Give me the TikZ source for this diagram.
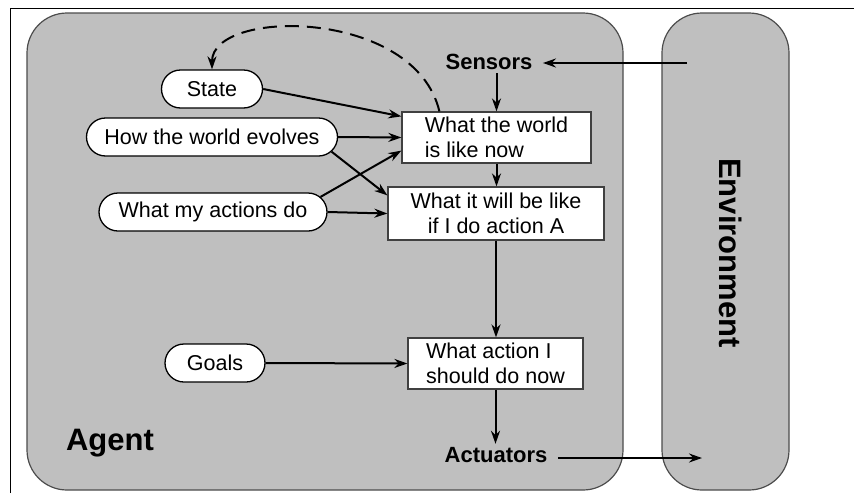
\documentclass[tikz,border=0pt]{standalone}
\usepackage{fontspec}
\setmainfont{Liberation Sans}
\usetikzlibrary{shapes.misc,arrows.meta,calc}
\begin{document}
\begin{tikzpicture}[x=1pt,y=-1pt,
  font=\fontsize{21.5}{24.5}\selectfont,
  panel/.style={draw=black!70, fill=black!25, line width=1.2pt, rounded corners=40pt, inner sep=0pt},
  oval/.style={rounded rectangle, draw, fill=white, line width=1.3pt, minimum height=38pt, inner sep=0pt},
  box/.style={draw=black!75, fill=white, line width=1.2pt, minimum height=51pt, inner ysep=2pt, inner xsep=0pt},
  arr/.style={line width=2pt, -{Stealth[length=13pt,width=9pt]}},
  lbl/.style={font=\fontsize{22}{26}\selectfont\bfseries},
  biglbl/.style={font=\fontsize{31}{36}\selectfont\bfseries}]
\useasboundingbox (0,0) rectangle (854,493);
\fill[white] (0,0) rectangle (854,493);
\draw[line width=1pt] (10,493) -- (10,8) -- (854,8);
% panels
\node[panel, minimum width=596pt, minimum height=477pt] (agent) at (325,251.5) {};
\node[panel, minimum width=127pt, minimum height=477pt] (env) at (725.5,251.5) {};
% ovals
\node[oval, minimum width=101pt] (state) at (212,89) {State};
\node[oval, minimum width=251pt] (evolve) at (212,137) {How the world evolves};
\node[oval, minimum width=228pt] (actdo) at (213,212) {What my actions do};
\node[oval, minimum width=100pt] (goals) at (215,363) {Goals};
% boxes
\node[box, minimum width=189pt, align=left] (now) at (496.5,137.5) {What the world\\is like now};
\node[box, minimum width=216pt, minimum height=53pt, align=center] (will) at (496,213.5) {What it will be like\\if I do action A};
\node[box, minimum width=175pt, align=left] (act) at (495.5,363.5) {What action I\\should do now};
% labels
\node[lbl] (sensors) at (489,62) {Sensors};
\node[lbl] (actuators) at (496,455) {Actuators};
\node[biglbl] (agentlbl) at (110,443) {Agent};
\node[biglbl, rotate=-90] (envlbl) at (731,253) {Environment};
\coordinate (envin) at (687,63);
\coordinate (envout) at (702,458);
\coordinate (sensin) at ([xshift=7pt]sensors.east);
\coordinate (actout) at ([xshift=7pt]actuators.east);
% arrows
\draw[arr] (envin) -- (sensin |- envin);
\draw[arr] (sensors.south -| now.north) -- (now.north);
\draw[arr] (now.south) -- (now.south |- will.north);
\draw[arr] (will.south) -- (will.south |- act.north);
\draw[arr] (act.south) -- (act.south |- actuators.north);
\draw[arr] (actout |- envout) -- (envout);
\draw[arr] (state.east) -- ($(now.north west)+(0,5)$);
\draw[arr] (evolve.east) -- (now.west);
\draw[arr] (evolve.-7) -- ($(will.north west)+(0,9)$);
\draw[arr] (actdo.8) -- ($(now.south west)+(0,-13)$);
\draw[arr] (actdo.east) -- (will.west);
\draw[arr] (goals.east) -- (act.west);
\draw[arr, dash pattern=on 14pt off 8pt] ($(now.north west)+(38,0)$) .. controls (415,8) and (212,8) .. (state.north);
\end{tikzpicture}
\end{document}
